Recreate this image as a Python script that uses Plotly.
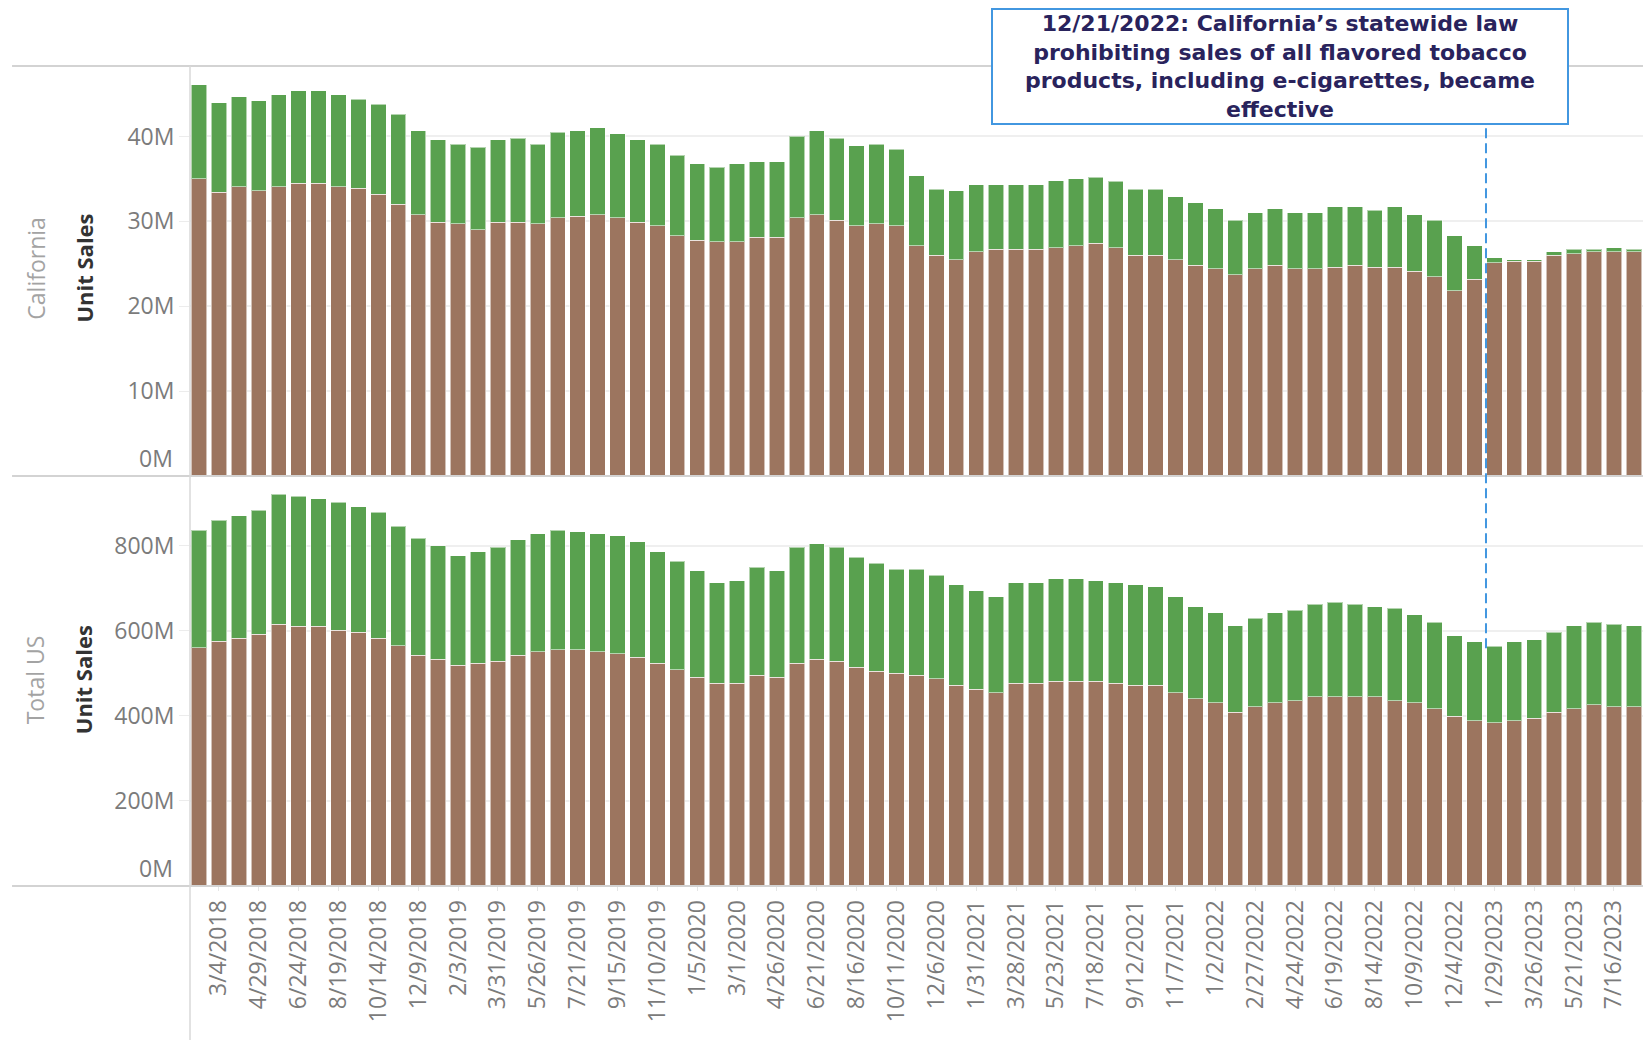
import plotly.graph_objects as go
from plotly.subplots import make_subplots

# 4-week periods (week ending)
dates = [
    "2/4/2018", "3/4/2018", "4/1/2018", "4/29/2018", "5/27/2018", "6/24/2018", "7/22/2018",
    "8/19/2018", "9/16/2018", "10/14/2018", "11/11/2018", "12/9/2018", "1/6/2019", "2/3/2019",
    "3/3/2019", "3/31/2019", "4/28/2019", "5/26/2019", "6/23/2019", "7/21/2019", "8/18/2019",
    "9/15/2019", "10/13/2019", "11/10/2019", "12/8/2019", "1/5/2020", "2/2/2020", "3/1/2020",
    "3/29/2020", "4/26/2020", "5/24/2020", "6/21/2020", "7/19/2020", "8/16/2020", "9/13/2020",
    "10/11/2020", "11/8/2020", "12/6/2020", "1/3/2021", "1/31/2021", "2/28/2021", "3/28/2021",
    "4/25/2021", "5/23/2021", "6/20/2021", "7/18/2021", "8/15/2021", "9/12/2021", "10/10/2021",
    "11/7/2021", "12/5/2021", "1/2/2022", "1/30/2022", "2/27/2022", "3/27/2022", "4/24/2022",
    "5/22/2022", "6/19/2022", "7/17/2022", "8/14/2022", "9/11/2022", "10/9/2022", "11/6/2022",
    "12/4/2022", "1/1/2023", "1/29/2023", "2/26/2023", "3/26/2023", "4/23/2023", "5/21/2023",
    "6/18/2023", "7/16/2023", "8/13/2023", "9/10/2023",
]
tick_labels = dates[1::2]

# California unit sales (millions)
ca_tobacco_menthol = [
    35.0, 33.4, 34.1, 33.6, 34.1, 34.5, 34.5, 34.1, 33.9, 33.2, 32.0, 30.8, 29.9, 29.7, 29.0,
    29.9, 29.9, 29.7, 30.4, 30.6, 30.8, 30.4, 29.9, 29.5, 28.3, 27.8, 27.6, 27.6, 28.1, 28.1,
    30.4, 30.8, 30.1, 29.5, 29.7, 29.5, 27.1, 26.0, 25.5, 26.4, 26.7, 26.7, 26.7, 26.9, 27.1,
    27.4, 26.9, 26.0, 26.0, 25.5, 24.8, 24.4, 23.7, 24.4, 24.8, 24.4, 24.4, 24.6, 24.8, 24.6,
    24.6, 24.1, 23.5, 21.8, 23.2, 25.1, 25.3, 25.3, 26.0, 26.2, 26.4, 26.4, 26.4, 25.5,
]
ca_total = [
    46.1, 44.0, 44.7, 44.2, 44.9, 45.4, 45.4, 44.9, 44.4, 43.8, 42.6, 40.7, 39.6, 39.1, 38.7,
    39.6, 39.8, 39.1, 40.5, 40.7, 41.0, 40.3, 39.6, 39.1, 37.8, 36.8, 36.4, 36.8, 37.0, 37.0,
    40.0, 40.7, 39.8, 38.9, 39.1, 38.5, 35.4, 33.8, 33.6, 34.3, 34.3, 34.3, 34.3, 34.8, 35.0,
    35.2, 34.7, 33.8, 33.8, 32.9, 32.2, 31.5, 30.1, 31.0, 31.5, 31.0, 31.0, 31.7, 31.7, 31.3,
    31.7, 30.8, 30.1, 28.3, 27.1, 25.7, 25.5, 25.5, 26.4, 26.7, 26.7, 26.9, 26.7, 25.7,
]

# Total US unit sales (millions)
us_tobacco_menthol = [
    560, 575, 583, 592, 615, 611, 611, 601, 597, 583, 565, 542, 533, 519, 524,
    528, 542, 551, 556, 556, 551, 546, 538, 524, 509, 491, 477, 477, 495, 491,
    524, 533, 528, 514, 505, 500, 495, 487, 472, 463, 454, 477, 477, 482, 482,
    482, 477, 472, 472, 454, 440, 431, 408, 422, 431, 436, 445, 445, 445, 445,
    436, 431, 417, 399, 389, 384, 389, 394, 408, 417, 426, 421, 421, 413,
]
us_total = [
    837, 860, 870, 884, 921, 916, 911, 902, 892, 879, 846, 818, 800, 777, 786,
    796, 814, 828, 837, 833, 828, 823, 810, 786, 763, 741, 713, 718, 749, 741,
    796, 805, 796, 773, 759, 745, 745, 731, 708, 694, 680, 713, 713, 722, 722,
    718, 713, 708, 704, 680, 657, 643, 612, 629, 643, 648, 662, 667, 662, 657,
    653, 638, 620, 588, 574, 564, 574, 579, 597, 612, 620, 616, 612, 606,
]

ca_flavored = [round(t - b, 2) for t, b in zip(ca_total, ca_tobacco_menthol)]
us_flavored = [round(t - b, 2) for t, b in zip(us_total, us_tobacco_menthol)]

ca_ticks = [10, 20, 30, 40]
us_ticks = [200, 400, 600, 800]

BROWN = "#9C755F"
GREEN = "#59A14F"
EDGE = "rgba(255,255,255,0.55)"
TICKC = "#7b7b7b"
FONT = "Open Sans"
BLUE = "#4297e0"

fig = make_subplots(rows=2, cols=1, shared_xaxes=True, vertical_spacing=0)

for row, base, top in [(1, ca_tobacco_menthol, ca_flavored), (2, us_tobacco_menthol, us_flavored)]:
    fig.add_trace(go.Bar(x=dates, y=base, name="Tobacco/Menthol", marker_color=BROWN,
                         marker_line=dict(color=EDGE, width=1)), row=row, col=1)
    fig.add_trace(go.Bar(x=dates, y=top, name="Other Flavors", marker_color=GREEN,
                         marker_line=dict(color=EDGE, width=1)), row=row, col=1)

xr = [-0.45, 72.86]
fig.update_layout(
    width=1643, height=1032,
    margin=dict(l=182, r=0, t=58, b=154),
    barmode="stack", bargap=0.23,
    plot_bgcolor="white", paper_bgcolor="white",
    showlegend=False,
    font=dict(family=FONT, color=TICKC),
)
fig.update_xaxes(range=xr, showline=False, showgrid=False, zeroline=False, fixedrange=True)
fig.update_xaxes(showticklabels=False, ticks="", row=1, col=1)
fig.update_xaxes(tickmode="array", tickvals=tick_labels, ticktext=tick_labels, tickangle=-90,
                 ticks="outside", ticklen=4, tickcolor="#e6e6e6",
                 tickfont=dict(family=FONT, size=23, color=TICKC), row=2, col=1)

fig.update_yaxes(range=[0, 48.3], tickvals=[0] + ca_ticks,
                 ticktext=[""] + [f"{v}M" for v in ca_ticks], row=1, col=1)
fig.update_yaxes(range=[0, 964], tickvals=[0] + us_ticks,
                 ticktext=[""] + [f"{v}M" for v in us_ticks], row=2, col=1)
fig.update_yaxes(showgrid=True, gridcolor="#efefef", gridwidth=1.5, zeroline=False, showline=False,
                 ticks="outside", ticklen=10, tickcolor="#ececec",
                 tickfont=dict(family=FONT, size=23, color=TICKC))

# zero labels, lifted above the pane border as in the original
for yref in ["y", "y2"]:
    fig.add_annotation(xref="paper", yref=yref, x=-0.0105, y=0, xanchor="right", yanchor="bottom",
                       text="0M", showarrow=False, font=dict(family=FONT, size=23, color=TICKC))

# pane borders (Tableau style)
x_left = -0.1218
for yy in [1.0, 0.5, 0.0]:
    fig.add_shape(type="line", xref="paper", yref="paper", x0=x_left, x1=1, y0=yy, y1=yy,
                  line=dict(color="#d3d3d3", width=2), layer="above")
fig.add_shape(type="line", xref="paper", yref="paper", x0=0, x1=0, y0=-0.2, y1=1,
              line=dict(color="#d9d9d9", width=1.5), layer="above")

# event marker
fig.add_shape(type="line", xref="x", yref="paper", x0=64.58, x1=64.58, y0=0.29, y1=0.929,
              line=dict(color=BLUE, width=2, dash="10px,5px"), layer="above")

fig.add_annotation(
    xref="paper", yref="paper", x=0.746, y=1.0, xanchor="center", yanchor="middle",
    text=("12/21/2022: California\u2019s statewide law<br>prohibiting sales of all flavored tobacco"
          "<br>products, including e-cigarettes, became<br>effective"),
    showarrow=False, align="center",
    font=dict(family="DejaVu Sans", size=22, color="#29235c", weight="bold"),
    bgcolor="white", bordercolor=BLUE, borderwidth=2, borderpad=0,
    width=574, height=113,
)

# row headers and axis titles
for yc, head in [(0.753, "California"), (0.251, "Total US")]:
    fig.add_annotation(xref="paper", yref="paper", x=-0.106, y=yc, xanchor="center",
                       yanchor="middle", text=head, textangle=-90, showarrow=False,
                       font=dict(family=FONT, size=23, color="#a3a3a3"))
    fig.add_annotation(xref="paper", yref="paper", x=-0.0732, y=yc, xanchor="center",
                       yanchor="middle", text="Unit Sales", textangle=-90, showarrow=False,
                       font=dict(family=FONT, size=22, color="#333333", weight="bold"))

fig.write_html("out.html")
